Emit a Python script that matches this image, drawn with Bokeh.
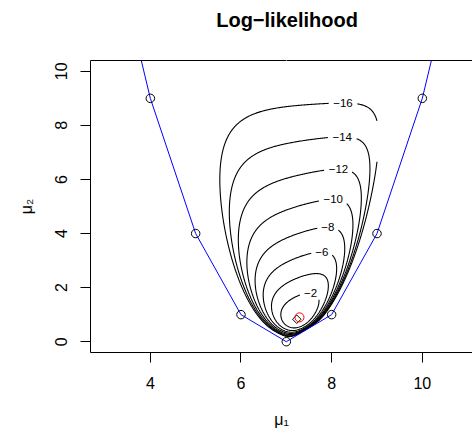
import math
import numpy as np
import contourpy
from bokeh.plotting import figure
from bokeh.models import LinearAxis, FixedTicker
from bokeh.embed import file_html
from bokeh.resources import INLINE
from bokeh.core.properties import value

# ---------------- data ----------------
curve_mu1 = [3, 4, 5, 6, 7, 8, 9, 10, 11]
curve_mu2 = [16, 9, 4, 1, 0, 1, 4, 9, 16]
support = list(range(0, 14))          # integer support of the discrete model
n_obs = 20.2
mle_mu1 = 7.30
mle_mu2 = 0.90
contour_levels = [-16, -14, -12, -10, -8, -6, -4, -2]
labelled_levels = [-16, -14, -12, -10, -8, -6, -2]
grid_mu1 = [5.0, 9.0]
grid_mu2 = [0.0, 10.0]
circle_mu1 = [7.29]
circle_mu2 = [0.90]
diamond_mu1 = [7.23]
diamond_mu2 = [0.83]
x_ticks = [4, 6, 8, 10]
y_ticks = [0, 2, 4, 6, 8, 10]
title_text = "Log\u2212likelihood"
x_title = "\u03bc\u2081"
y_title = "\u03bc\u2082"

# ---------------- layout ----------------
W, H = 472, 434
ML, MT, MB = 90, 60, 82
X0, PPX = 2.68, 45.33
Y0, Y1 = -0.4, 10.4
FW = W - ML
FH = H - MT - MB
X1 = X0 + FW / PPX
PPY = FH / (Y1 - Y0)
FONT = "Liberation Sans"
LAB_PX = 11.5

# ---------------- log-likelihood surface ----------------
vertex = curve_mu1[int(np.argmin(curve_mu2))]
gx = np.linspace(grid_mu1[0], grid_mu1[1], 241)
gy = np.linspace(grid_mu2[0], grid_mu2[1], 401)
GX, GY = np.meshgrid(gx, gy)
t1 = np.asarray(support, float) - vertex
t2 = t1 ** 2


def solve_theta(m1, m2, iters=160):
    th1 = np.zeros(m1.shape[0])
    th2 = np.zeros(m1.shape[0])
    for _ in range(iters):
        e = th1[:, None] * t1[None, :] + th2[:, None] * t2[None, :]
        e -= e.max(1, keepdims=True)
        w = np.exp(e)
        w /= w.sum(1, keepdims=True)
        e1 = w @ t1
        e2 = w @ t2
        c11 = w @ (t1 * t1) - e1 * e1
        c12 = w @ (t1 * t2) - e1 * e2
        c22 = w @ (t2 * t2) - e2 * e2
        g1 = m1 - e1
        g2 = m2 - e2
        det = c11 * c22 - c12 * c12
        det = np.where(np.abs(det) < 1e-300, 1e-300, det)
        d1 = (c22 * g1 - c12 * g2) / det
        d2 = (-c12 * g1 + c11 * g2) / det
        span = np.abs(d1[:, None] * t1[None, :] + d2[:, None] * t2[None, :]).max(1)
        s = np.minimum(1.0, 6.0 / np.maximum(span, 1e-12))
        th1 += s * d1
        th2 += s * d2
    e = th1[:, None] * t1[None, :] + th2[:, None] * t2[None, :]
    mx = e.max(1)
    A = mx + np.log(np.exp(e - mx[:, None]).sum(1))
    return th1, th2, A


h1, h2, hA = solve_theta(np.array([mle_mu1 - vertex]), np.array([mle_mu2]))
a1, a2, aA = solve_theta(GX.ravel() - vertex, GY.ravel())
m1h = mle_mu1 - vertex
ll = n_obs * (a1 * m1h + a2 * mle_mu2 - aA) - n_obs * (h1[0] * m1h + h2[0] * mle_mu2 - hA[0])
ll = np.where(np.isfinite(ll), ll, -1e3)
ll = np.maximum(ll, -1e3).reshape(GX.shape)

gen = contourpy.contour_generator(gx, gy, ll, line_type="Separate")


def screen(pts):
    return (pts[:, 0] - X0) * PPX, (pts[:, 1] - Y0) * PPY


def runs_of(mask):
    idx = np.flatnonzero(mask)
    if len(idx) == 0:
        return []
    br = np.flatnonzero(np.diff(idx) > 1)
    starts = np.r_[idx[0], idx[br + 1]]
    ends = np.r_[idx[br], idx[-1]]
    return [(int(a), int(b)) for a, b in zip(starts, ends)]


seg_xs, seg_ys = [], []
lab_x, lab_y, lab_t = [], [], []


def add_seg(pts):
    if len(pts) >= 2:
        seg_xs.append(pts[:, 0].tolist())
        seg_ys.append(pts[:, 1].tolist())


for lev in contour_levels:
    lines = [ln for ln in gen.lines(lev) if len(ln) > 2]
    if not lines:
        continue
    main = int(np.argmax([len(ln) for ln in lines]))
    for i, ln in enumerate(lines):
        closed = bool(np.allclose(ln[0], ln[-1]))
        if i != main or lev not in labelled_levels:
            add_seg(ln)
            continue
        if closed:
            body = ln[:-1]
            k = int(np.argmax(body[:, 1]))
            body = np.roll(body, len(body) // 2 - k, axis=0)
            ln = np.vstack([body, body[:1]])
        k = int(np.argmax(ln[:, 1]))
        sx, sy = screen(ln)
        txt = "\u2212" + str(abs(lev))
        tw = (0.584 + 0.556 * len(str(abs(lev)))) * LAB_PX
        gap = tw / 2 + 4
        keep = np.hypot(sx - sx[k], sy - sy[k]) > gap
        lab_x.append(float(ln[k, 0]))
        lab_y.append(float(ln[k, 1]))
        lab_t.append(txt)
        runs = runs_of(keep)
        if closed and len(runs) >= 2 and runs[0][0] == 0 and runs[-1][1] == len(ln) - 1:
            first = runs.pop(0)
            last = runs.pop(-1)
            add_seg(np.vstack([ln[last[0]:last[1] + 1], ln[first[0] + 1:first[1] + 1]]))
        for a, b in runs:
            add_seg(ln[a:b + 1])

# ---------------- figure ----------------
p = figure(width=W, height=H, x_range=(X0, X1), y_range=(Y0, Y1),
           output_backend="svg", toolbar_location=None,
           min_border_left=ML, min_border_right=0, min_border_top=MT, min_border_bottom=MB)
p.background_fill_color = "white"
p.border_fill_color = "white"
p.outline_line_color = None
p.xgrid.visible = False
p.ygrid.visible = False

for ax, ticks in ((p.xaxis, x_ticks), (p.yaxis, y_ticks)):
    ax.ticker = FixedTicker(ticks=ticks)
    ax.axis_line_color = "black"
    ax.axis_line_width = 1
    ax.major_tick_line_color = "black"
    ax.major_tick_out = 10
    ax.major_tick_in = 0
    ax.minor_tick_line_color = None
    ax.major_label_text_font = FONT
    ax.major_label_text_font_size = "16px"
    ax.major_label_text_color = "black"
    ax.axis_label_text_font = FONT
    ax.axis_label_text_font_size = "16px"
    ax.axis_label_text_font_style = "normal"
    ax.axis_label_text_color = "black"
p.xaxis.major_label_standoff = 14
p.yaxis.major_label_standoff = 13
p.yaxis.major_label_orientation = "vertical"
p.xaxis.axis_label = x_title
p.yaxis.axis_label = y_title
p.xaxis.axis_label_standoff = 19
p.yaxis.axis_label_standoff = 18

# top side of the box; one white (invisible) tick reserves room below the title
top_axis = LinearAxis(ticker=FixedTicker(ticks=[vertex]), axis_line_color="black",
                      major_tick_line_color="white", minor_tick_line_color=None,
                      major_tick_out=25, major_tick_in=0,
                      major_label_overrides={vertex: ""},
                      major_label_text_font_size="0px", major_label_standoff=0)
p.add_layout(top_axis, "above")

p.title.text = title_text
p.title.align = "left"
p.title.offset = 125.7
p.title.standoff = 10
p.title.text_font = FONT
p.title.text_font_style = "bold"
p.title.text_font_size = "20px"
p.title.text_color = "black"

p.multi_line(seg_xs, seg_ys, line_color="black", line_width=1.1)
p.text(x=lab_x, y=lab_y, text=lab_t, text_align="center", text_baseline="middle",
       text_font=value(FONT), text_font_size="11.5px", text_color="black")

p.line(curve_mu1, curve_mu2, line_color="blue", line_width=1)
p.scatter(curve_mu1, curve_mu2, marker="circle", size=8.5, fill_color=None,
          line_color="black", line_width=1)
p.scatter(diamond_mu1, diamond_mu2, marker="square", angle=math.pi / 4, size=6,
          fill_color=None, line_color="black", line_width=1)
p.scatter(circle_mu1, circle_mu2, marker="circle", size=9, fill_color=None,
          line_color="red", line_width=1)

open("out.html", "w").write(file_html(p, INLINE))
